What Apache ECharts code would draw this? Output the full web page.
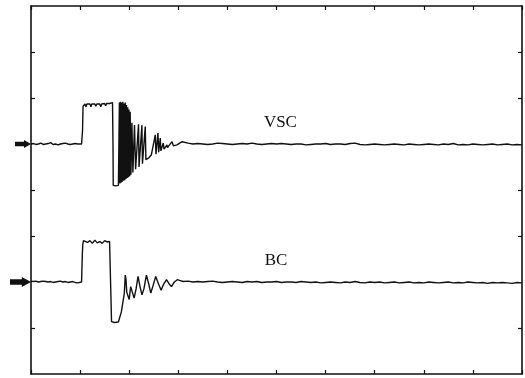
<!DOCTYPE html>
<html>
<head>
<meta charset="utf-8">
<script src="https://cdn.jsdelivr.net/npm/echarts@6/dist/echarts.min.js"></script>
<style>
  html, body { margin: 0; padding: 0; background: #fff; }
  #chart { width: 525px; height: 378px; }
</style>
</head>
<body>
<div id="chart"></div>
<script>
// time in divisions (0..10), level in divisions (0..8)
const vscTrace = [
  [0, 5.0], [0.05, 5.01], [0.1, 4.99], [0.15, 5.0], [0.2, 5.02], [0.25, 4.99], [0.3, 5.0],
  [0.35, 5.01], [0.4, 5.03], [0.45, 4.99], [0.5, 5.0], [0.55, 4.98], [0.6, 5.0], [0.65, 5.01],
  [0.7, 5.02], [0.75, 5.0], [0.8, 4.99], [0.85, 5.0], [0.9, 5.01], [0.95, 5.0], [1.03, 5.0],
  [1.05, 5.3], [1.06, 5.82], [1.07, 5.86], [1.1, 5.87], [1.12, 5.81], [1.14, 5.87], [1.2, 5.87],
  [1.22, 5.81], [1.24, 5.87], [1.3, 5.87], [1.32, 5.82], [1.34, 5.87], [1.4, 5.87], [1.42, 5.81],
  [1.44, 5.87], [1.5, 5.88], [1.52, 5.83], [1.54, 5.88], [1.6, 5.88], [1.62, 5.9], [1.66, 5.9],
  [1.67, 5.0], [1.675, 4.1], [1.72, 4.09], [1.78, 4.1],
  [1.8, 5.9], [1.81, 4.14], [1.82, 5.92], [1.835, 4.16], [1.845, 5.9], [1.86, 4.18], [1.87, 5.92],
  [1.885, 4.2], [1.895, 5.88], [1.91, 4.21], [1.92, 5.9], [1.935, 4.24], [1.945, 5.85], [1.96, 4.26],
  [1.97, 5.8], [1.985, 4.28], [1.995, 5.75], [2.01, 4.3], [2.02, 5.7], [2.035, 4.33], [2.055, 5.46],
  [2.075, 4.38], [2.108, 5.41], [2.13, 4.45], [2.19, 5.43], [2.2, 4.5], [2.259, 5.41], [2.27, 4.57],
  [2.327, 5.38], [2.34, 4.66], [2.4, 4.7], [2.45, 4.76], [2.531, 5.2], [2.545, 4.78], [2.586, 5.24],
  [2.6, 4.82], [2.633, 5.13], [2.645, 4.85], [2.694, 5.02], [2.71, 4.89], [2.769, 4.98], [2.78, 4.92],
  [2.871, 5.05], [2.9, 4.96], [2.973, 4.98], [3.076, 5.05],
  [3.2, 5.02], [3.3, 5.0], [3.4, 5.01], [3.5, 5.0], [3.6, 4.99], [3.7, 5.0], [3.8, 5.02], [3.9, 5.01],
  [4.0, 5.0], [4.1, 4.99], [4.2, 5.0], [4.3, 5.01], [4.4, 5.0], [4.5, 5.02], [4.6, 5.0], [4.7, 4.99],
  [4.8, 5.0], [4.9, 5.01], [5.0, 5.0], [5.1, 5.01], [5.2, 5.0], [5.3, 4.99], [5.4, 5.0], [5.5, 5.0],
  [5.6, 4.98], [5.7, 4.99], [5.8, 5.0], [5.9, 5.0], [6.0, 5.01], [6.1, 4.99], [6.2, 5.0], [6.3, 5.0],
  [6.4, 4.99], [6.5, 5.01], [6.6, 5.02], [6.7, 4.99], [6.8, 4.98], [6.9, 4.99], [7.0, 5.0], [7.1, 4.99],
  [7.2, 4.98], [7.3, 4.99], [7.4, 5.0], [7.5, 4.99], [7.6, 4.98], [7.7, 5.0], [7.8, 4.99], [7.9, 4.98],
  [8.0, 4.99], [8.1, 5.0], [8.2, 4.99], [8.3, 4.98], [8.4, 5.0], [8.5, 4.99], [8.6, 5.01], [8.7, 4.98],
  [8.8, 4.99], [8.9, 4.98], [9.0, 5.0], [9.1, 4.99], [9.2, 4.98], [9.3, 4.99], [9.4, 5.0], [9.5, 4.98],
  [9.6, 4.99], [9.7, 5.0], [9.8, 4.98], [9.9, 4.99], [10.0, 4.98]
];

const bcTrace = [
  [0, 2.02], [0.05, 2.01], [0.1, 2.02], [0.15, 2.0], [0.2, 2.01], [0.25, 2.02], [0.3, 2.01],
  [0.35, 2.0], [0.4, 2.01], [0.45, 1.99], [0.5, 2.0], [0.55, 2.01], [0.6, 2.02], [0.65, 2.0],
  [0.7, 2.01], [0.75, 1.99], [0.8, 2.0], [0.85, 2.01], [0.9, 1.99], [0.95, 1.98], [1.03, 2.0],
  [1.045, 2.6], [1.055, 2.82], [1.07, 2.9], [1.1, 2.92], [1.15, 2.86], [1.2, 2.9], [1.25, 2.84],
  [1.3, 2.91], [1.35, 2.85], [1.4, 2.88], [1.45, 2.84], [1.5, 2.9], [1.55, 2.87], [1.6, 2.88],
  [1.62, 2.86], [1.63, 1.6], [1.64, 1.14], [1.7, 1.12], [1.78, 1.13], [1.82, 1.15],
  [1.84, 1.35], [1.87, 1.55], [1.9, 1.75], [1.92, 2.15], [1.935, 2.05], [1.95, 1.78], [2.0, 1.62],
  [2.03, 1.9], [2.06, 1.88], [2.1, 1.65], [2.14, 1.85], [2.18, 2.12], [2.22, 1.9], [2.26, 1.72],
  [2.3, 1.85], [2.35, 2.15], [2.4, 1.95], [2.44, 1.76], [2.48, 1.9], [2.54, 2.12], [2.6, 1.95],
  [2.65, 1.82], [2.7, 1.95], [2.76, 2.05], [2.82, 1.95], [2.86, 1.9], [2.92, 2.0], [2.98, 2.05],
  [3.04, 2.03],
  [3.1, 2.01], [3.2, 2.02], [3.3, 2.0], [3.4, 2.01], [3.5, 2.0], [3.6, 2.01], [3.7, 2.02], [3.8, 2.0],
  [3.9, 1.99], [4.0, 2.0], [4.1, 2.01], [4.2, 2.0], [4.3, 1.99], [4.4, 2.01], [4.5, 2.0], [4.6, 2.01],
  [4.7, 1.99], [4.8, 2.0], [4.9, 2.0], [5.0, 2.01], [5.1, 1.99], [5.2, 2.0], [5.3, 2.0], [5.4, 1.99],
  [5.5, 2.01], [5.6, 2.0], [5.7, 1.99], [5.8, 2.0], [5.9, 1.98], [6.0, 1.99], [6.1, 2.0], [6.2, 1.99],
  [6.3, 1.98], [6.4, 2.0], [6.5, 1.99], [6.6, 2.01], [6.7, 1.99], [6.8, 1.98], [6.9, 2.0], [7.0, 1.99],
  [7.1, 2.0], [7.2, 1.98], [7.3, 1.99], [7.4, 2.0], [7.5, 1.98], [7.6, 1.99], [7.7, 2.0], [7.8, 1.98],
  [7.9, 1.99], [8.0, 1.98], [8.1, 2.0], [8.2, 1.99], [8.3, 1.98], [8.4, 1.99], [8.5, 2.0], [8.6, 1.98],
  [8.7, 1.99], [8.8, 1.98], [8.9, 2.0], [9.0, 1.99], [9.1, 1.98], [9.2, 1.99], [9.3, 1.97], [9.4, 1.99],
  [9.5, 1.98], [9.6, 1.99], [9.7, 1.98], [9.8, 1.97], [9.9, 1.99], [10.0, 1.98]
];

const traceNames = ["VSC", "BC"];
const labelSpots = [[5.08, 5.46], [4.99, 2.47]]; // where the names sit, in divisions
const zeroLevels = [5.0, 2.0]; // the arrows on the left edge
const yTickValues = [1, 3, 4, 6, 7];

const ink = "#111111";
const arrowPath = "path://M0,2.2 L9,2.2 L9,0 L16,5 L9,10 L9,7.8 L0,7.8 Z";

const chart = echarts.init(document.getElementById("chart"));

function frameX(pos) {
  return {
    type: "value",
    position: pos,
    min: 0,
    max: 10,
    interval: 1,
    axisLine: { show: true, onZero: false, lineStyle: { color: ink, width: 1.6 } },
    axisTick: { show: true, inside: true, length: 4, lineStyle: { color: ink, width: 1.2 } },
    axisLabel: { show: false },
    splitLine: { show: false },
  };
}

function frameY(pos) {
  return {
    type: "value",
    position: pos,
    min: 0,
    max: 8,
    interval: 1,
    axisLine: { show: true, onZero: false, lineStyle: { color: ink, width: 1.6 } },
    axisTick: {
      show: true,
      inside: true,
      length: 4,
      customValues: yTickValues,
      lineStyle: { color: ink, width: 1.2 },
    },
    axisLabel: { show: false },
    splitLine: { show: false },
  };
}

function traceSeries(i, data, arrowSize) {
  return {
    name: traceNames[i],
    type: "line",
    data: data,
    showSymbol: false,
    symbol: "none",
    lineStyle: { color: ink, width: 1.4 },
    markPoint: {
      silent: true,
      data: [
        {
          coord: labelSpots[i],
          symbol: "circle",
          symbolSize: 0,
          label: {
            show: true,
            position: "inside",
            formatter: traceNames[i],
            color: ink,
            fontFamily: "Liberation Serif",
            fontSize: 17,
          },
        },
        {
          coord: [0, zeroLevels[i]],
          symbol: arrowPath,
          symbolSize: arrowSize,
          symbolOffset: [-arrowSize[0] / 2, 0],
          itemStyle: { color: ink },
          label: { show: false },
        },
      ],
    },
  };
}

chart.setOption({
  animation: false,
  backgroundColor: "#ffffff",
  grid: { left: 31, right: 3, top: 6, bottom: 4 },
  xAxis: [frameX("bottom"), frameX("top")],
  yAxis: [frameY("left"), frameY("right")],
  series: [traceSeries(0, vscTrace, [16, 8]), traceSeries(1, bcTrace, [21, 10])],
});
</script>
</body>
</html>
